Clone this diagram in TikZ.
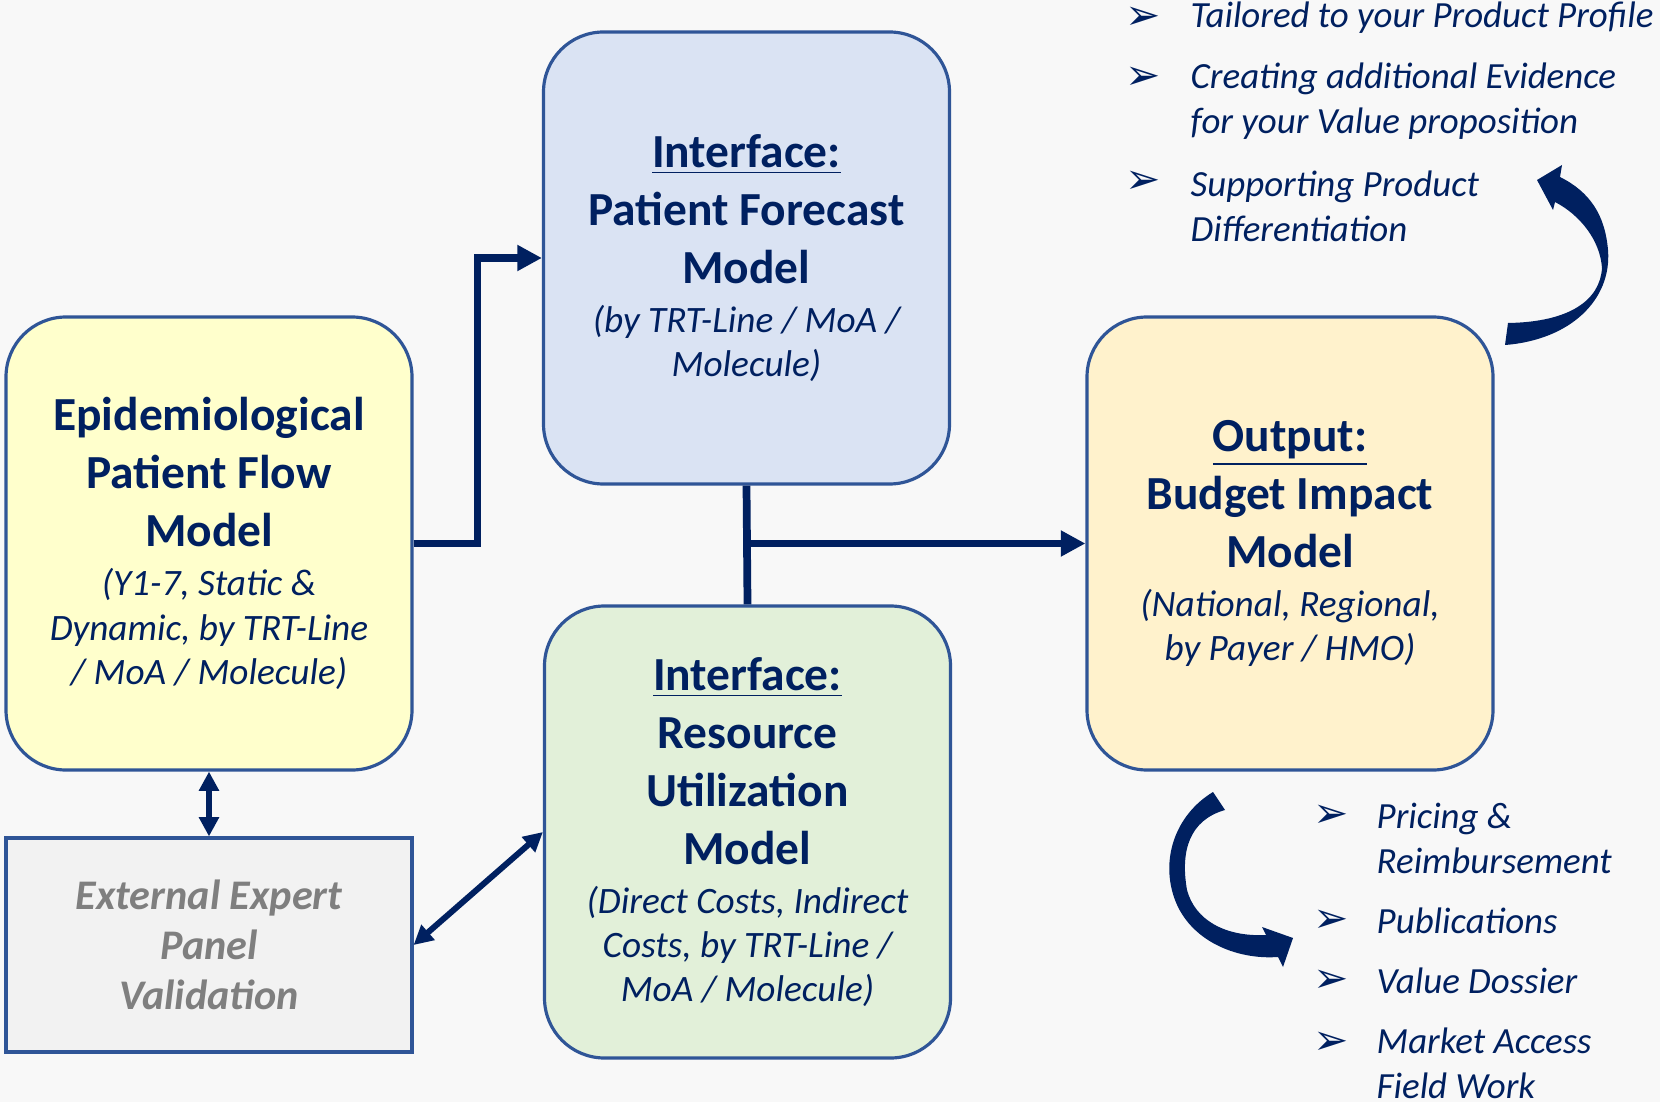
\documentclass[tikz,border=0pt]{standalone}
\usepackage{fontspec}
\setmainfont{Carlito}
\newfontfamily\dejavu{DejaVu Sans}
\usetikzlibrary{arrows.meta}

\definecolor{navy}{HTML}{002060}
\definecolor{frame}{HTML}{2F5597}
\definecolor{epifill}{HTML}{FFFFCC}
\definecolor{forefill}{HTML}{DAE3F3}
\definecolor{resfill}{HTML}{E2F0D9}
\definecolor{outfill}{HTML}{FFF2CC}
\definecolor{extfill}{HTML}{F2F2F2}
\definecolor{extgray}{HTML}{7F7F7F}
\definecolor{bg}{HTML}{F8F8F8}

% italic detail lines under the bold titles
\newcommand{\detailfont}{\mdseries\itshape\fontsize{10.6}{12.6}\selectfont}
\newcommand{\nl}{\\[-3.9pt]\detailfont}

\tikzset{
  model/.style={draw=frame,line width=0.9pt,rounded corners=0.6cm,minimum width=4.06cm,
    minimum height=4.53cm,inner sep=0pt,align=center,text=navy,
    font=\bfseries\fontsize{13.5}{16.5}\selectfont},
  conn/.style={navy,line width=2.2pt},
  head/.style={-{Triangle[length=7pt,width=7pt]}},
  link/.style={navy,line width=1.7pt,{Triangle[length=5.5pt,width=5.5pt]}-{Triangle[length=5.5pt,width=5.5pt]}},
  item/.style={anchor=west,align=left,inner sep=0pt,text=navy,
    font=\itshape\fontsize{10.5}{12.9}\selectfont},
  tick/.style={inner sep=0pt,text=navy,font=\dejavu\fontsize{12}{12}\selectfont}
}

\begin{document}
\begin{tikzpicture}
	\fill[bg] (0,0) rectangle (16.6,11.02) ;
	\useasboundingbox (0,0) rectangle (16.6,11.02) ;
	% model boxes
	\node[model,fill=epifill] (epid) at (2.09,5.585) {Epidemiological\\Patient Flow\\Model\\[-2.6pt]\detailfont (Y1-7, Static \&\nl Dynamic, by TRT-Line\nl / MoA / Molecule)} ;
	\node[model,fill=forefill,minimum height=4.52cm] (fore) at (7.465,8.44) {\underline{Interface:}\\Patient Forecast\\Model\\[-2.6pt]\detailfont (by TRT-Line / MoA /\nl Molecule)} ;
	\node[model,fill=resfill,minimum height=4.52cm] (res) at (7.475,2.70) {\underline{Interface:}\\Resource\\Utilization\\Model\\[-2.6pt]\detailfont (Direct Costs, Indirect\nl Costs, by TRT-Line /\nl MoA / Molecule)} ;
	\node[model,fill=outfill] (budget) at (12.90,5.585) {\underline{Output:}\\Budget Impact\\Model\\[-2.6pt]\detailfont (National, Regional,\nl by Payer / HMO)} ;
	\node[draw=frame,line width=0.9pt,fill=extfill,minimum width=4.06cm,minimum height=2.14cm,inner sep=0pt,align=center,text=extgray,font=\bfseries\itshape\fontsize{12}{14.2}\selectfont] (ext) at (2.09,1.57) {External Expert\\Panel\\Validation} ;
	% connectors
	\draw[conn,head] (epid.east) -- ++(0.64,0) |- (fore.west) ;
	\draw[conn] (fore.south) -- (res.north) ;
	\draw[conn,head] (fore.south |- budget.west) -- (budget.west) ;
	\draw[link] (epid.south) -- (ext.north) ;
	\draw[link] (ext.east) -- (res.west) ;
	% curved arrows
	\fill[navy] (15.05,7.57) .. controls (15.70,7.62) and (16.12,8.02) .. (16.08,8.52)
		.. controls (16.05,8.87) and (15.90,9.10) .. (15.60,9.25) -- (15.62,9.37) -- (15.37,9.22)
		-- (15.53,8.92) -- (15.55,9.00) .. controls (15.80,8.87) and (16.00,8.62) .. (16.02,8.34)
		.. controls (16.00,8.02) and (15.70,7.80) .. (15.08,7.79) -- cycle ;
	\fill[navy] (12.13,3.10) .. controls (11.75,2.87) and (11.60,2.42) .. (11.75,2.02)
		.. controls (11.90,1.62) and (12.35,1.42) .. (12.78,1.45) -- (12.83,1.35) -- (12.93,1.64)
		-- (12.62,1.75) -- (12.66,1.67) .. controls (12.25,1.65) and (11.95,1.82) .. (11.87,2.12)
		.. controls (11.80,2.52) and (11.90,2.82) .. (12.25,2.92) -- cycle ;
	% benefits
	\node[tick] (b1) at (11.43,10.84) {➢} ;
	\node[item] (t1) at (11.90,10.84) {Tailored to your Product Profile} ;
	\node[tick] (b2) at (11.43,10.24) {➢} ;
	\node[item] (t2) at (11.90,10.01) {Creating additional Evidence\\for your Value proposition} ;
	\node[tick] (b3) at (11.43,9.20) {➢} ;
	\node[item] (t3) at (11.90,8.955) {Supporting Product\\Differentiation} ;
	% uses
	\node[tick] (u1) at (13.31,2.86) {➢} ;
	\node[item] (v1) at (13.76,2.635) {Pricing \&\\Reimbursement} ;
	\node[tick] (u2) at (13.31,1.81) {➢} ;
	\node[item] (v2) at (13.76,1.81) {Publications} ;
	\node[tick] (u3) at (13.31,1.21) {➢} ;
	\node[item] (v3) at (13.76,1.21) {Value Dossier} ;
	\node[tick] (u4) at (13.31,0.59) {➢} ;
	\node[item] (v4) at (13.76,0.39) {Market Access\\Field Work} ;
\end{tikzpicture}
\end{document}
